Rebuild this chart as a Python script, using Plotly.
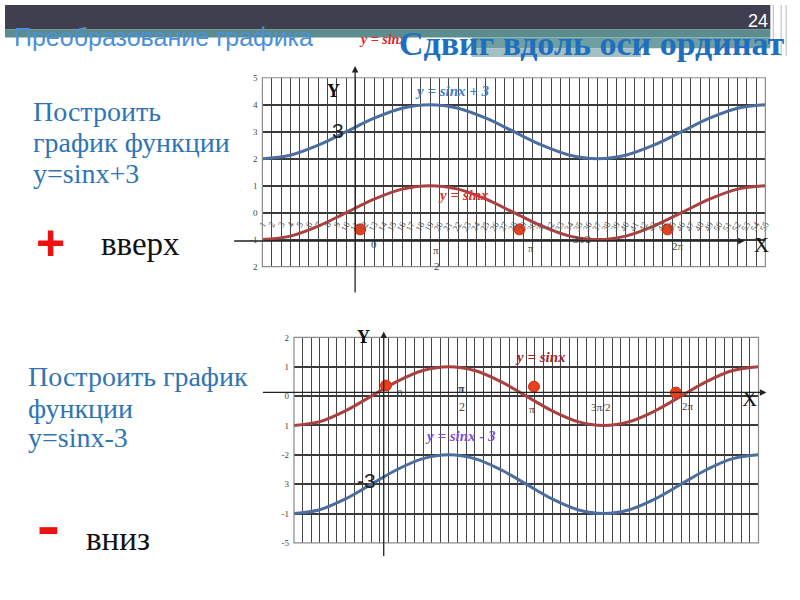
import plotly.graph_objects as go

W, H = 800, 600
SERIF = "Liberation Serif"
SANS = "Liberation Sans"

# ---------------------------------------------------------------
# values (x in degrees, 30 deg apart)
# ---------------------------------------------------------------
x_deg = [-90, -60, -30, 0, 30, 60, 90, 120, 150, 180, 210, 240, 270,
         300, 330, 360, 390, 420, 450]
sin_y = [-1, -0.87, -0.5, 0, 0.5, 0.87, 1, 0.87, 0.5, 0, -0.5, -0.87, -1,
         -0.87, -0.5, 0, 0.5, 0.87, 1]
up_y = [2, 2.13, 2.5, 3, 3.5, 3.87, 4, 3.87, 3.5, 3, 2.5, 2.13, 2,
        2.13, 2.5, 3, 3.5, 3.87, 4]
down_y = [-4, -3.87, -3.5, -3, -2.5, -2.13, -2, -2.13, -2.5, -3, -3.5, -3.87, -4,
          -3.87, -3.5, -3, -2.5, -2.13, -2]

dots_top_x = [15, 186, 345]
dots_top_y = [-0.62, -0.62, -0.62]
dots_bot_x = [17, 189, 354]
dots_bot_y = [0.36, 0.32, 0.12]

# category axis of the original spreadsheet chart: 55 points, 10 deg apart
cat_labels = [str(i) for i in range(1, 56)]
cat_x = [-90 + 10 * i for i in range(55)]

top_yticks = [5, 4, 3, 2, 1, 0, -1, -2]
top_ytext = ["5", "4", "3", "2", "1", "0", "-1", "2"]
bot_yticks = [2, 1, 0, -1, -2, -3, -4, -5]
bot_ytext = ["2", "1", "0", "1", "-2", "3", "-1", "-5"]

BLUE_LINE = "#4b6e9e"
RED_LINE = "#a8413f"
DOT = "#e8401c"
TXT_BLUE = "#2f75b5"


def px(x, y):
    return x / W, 1 - y / H


fig = go.Figure()

# top chart: y = sinx and y = sinx + 3
fig.add_trace(go.Scatter(x=x_deg, y=up_y, mode="lines", line=dict(color=BLUE_LINE, width=3, shape="spline"),
                         xaxis="x", yaxis="y"))
fig.add_trace(go.Scatter(x=x_deg, y=sin_y, mode="lines", line=dict(color=RED_LINE, width=3, shape="spline"),
                         xaxis="x", yaxis="y"))
fig.add_trace(go.Scatter(x=dots_top_x, y=dots_top_y, mode="markers",
                         marker=dict(color=DOT, size=11, line=dict(color="#c8301a", width=1)),
                         xaxis="x", yaxis="y"))

# bottom chart: y = sinx and y = sinx - 3
fig.add_trace(go.Scatter(x=x_deg, y=sin_y, mode="lines", line=dict(color=RED_LINE, width=3, shape="spline"),
                         xaxis="x2", yaxis="y2"))
fig.add_trace(go.Scatter(x=x_deg, y=down_y, mode="lines", line=dict(color=BLUE_LINE, width=3, shape="spline"),
                         xaxis="x2", yaxis="y2"))
fig.add_trace(go.Scatter(x=dots_bot_x, y=dots_bot_y, mode="markers",
                         marker=dict(color=DOT, size=11, line=dict(color="#c8301a", width=1)),
                         xaxis="x2", yaxis="y2"))

ann = []


def txt(x, y, s, size, color="#111", family=SERIF, xanchor="center"):
    ax_, ay_ = px(x, y)
    ann.append(dict(x=ax_, y=ay_, xref="paper", yref="paper", text=s, showarrow=False,
                    font=dict(family=family, size=size, color=color),
                    xanchor=xanchor, yanchor="middle"))


def arrow(x0, y0, x1, y1):
    hx, hy = px(x1, y1)
    ann.append(dict(x=hx, y=hy, xref="paper", yref="paper", text="", showarrow=True,
                    ax=x0 - x1, ay=y0 - y1, axref="pixel", ayref="pixel",
                    arrowhead=2, arrowsize=1, arrowwidth=1.3, arrowcolor="#222"))


# header
txt(7, 33, "Преобразование графика", 25, "#4a90d9", SANS, "left")
txt(357, 35, "<b><i>y = sinx</i></b>", 14, "#e02424", SERIF, "left")
txt(397, 39, "<b>Сдвиг вдоль оси ординат</b>", 34, "#1f6fc1", SERIF, "left")
txt(763, 16, "24", 18, "#ffffff", SANS)

# left texts
txt(26, 108, "Построить", 28, TXT_BLUE, SERIF, "left")
txt(26, 140, "график функции", 28, TXT_BLUE, SERIF, "left")
txt(26, 171, "y=sinx+3", 28, TXT_BLUE, SERIF, "left")
txt(46, 242, "<b>+</b>", 50, "#ee1111", SANS)
txt(95, 243, "вверх", 33, "#111", SERIF, "left")

txt(21, 378, "Построить график", 28, TXT_BLUE, SERIF, "left")
txt(21, 410, "функции", 28, TXT_BLUE, SERIF, "left")
txt(21, 440, "y=sinx-3", 28, TXT_BLUE, SERIF, "left")
txt(80, 543, "вниз", 33, "#111", SERIF, "left")

# top chart labels
txt(333, 87, "<b>Y</b>", 18)
txt(338, 128, "3", 21, "#222", SANS)
txt(454, 87, "<b><i>y = sinx + 3</i></b>", 15, "#3d7cc9")
txt(465, 193, "<b><i>y = sinx</i></b>", 15, "#e03030")
txt(374, 243, "0", 11, "#444")
txt(437, 249, "π", 11, "#444")
txt(438, 265, "2", 11, "#444")
txt(533, 247, "π", 11, "#444")
txt(585, 238, "3π/2", 10, "#444")
txt(682, 245, "2π", 11, "#444")
txt(767, 244, "X", 21)

# bottom chart labels
txt(364, 338, "<b>Y</b>", 18)
txt(367, 484, "-3", 21, "#222", SANS)
txt(543, 358, "<b><i>y = sinx</i></b>", 15, "#9e2530")
txt(462, 438, "<b><i>y = sinx - 3</i></b>", 15, "#7a4ee0")
txt(401, 395, "0", 11, "#444")
txt(463, 390, "<b>π</b>", 12, "#444")
txt(463, 409, "2", 12, "#444")
txt(534, 411, "π", 11, "#444")
txt(604, 409, "3π/2", 11, "#444")
txt(693, 408, "2π", 11, "#444")
txt(755, 401, "X", 21)

# drawn axes with arrow heads
arrow(355, 290, 355, 62)
arrow(238, 240, 750, 240)
arrow(384, 558, 384, 332)
arrow(267, 394, 772, 394)

shapes = []


def rect(x0, y0, x1, y1, color):
    shapes.append(dict(type="rect", xref="paper", yref="paper",
                       x0=x0 / W, x1=x1 / W, y0=1 - y1 / H, y1=1 - y0 / H,
                       fillcolor=color, line=dict(width=0), layer="below"))


rect(0, 0, 776, 25, "#3f3f50")
rect(0, 25, 776, 33, "#5b8d8e")
rect(473, 33, 776, 44, "#6f9fa0")
rect(473, 44, 645, 53, "#a3bfc2")
for xv in [779, 787, 792]:
    shapes.append(dict(type="line", xref="paper", yref="paper", x0=xv / W, x1=xv / W,
                       y0=1 - 52 / H, y1=1, line=dict(color="#b8b8b8", width=1)))

# plot borders
for xr, yr in [("x domain", "y domain"), ("x2 domain", "y2 domain")]:
    shapes.append(dict(type="rect", xref=xr, yref=yr, x0=0, x1=1, y0=0, y1=1,
                       line=dict(color="#8a8a8a", width=1.2), layer="above"))

# small red minus sign
rect(35, 531, 53, 538, "#ee1111")

grid_x = dict(range=[-90, 450], tickvals=cat_x, showgrid=True, gridcolor="#454545", gridwidth=1.3,
              zeroline=False, showline=False, ticks="")
grid_y = dict(showgrid=True, gridcolor="#3a3a3a", gridwidth=1.6, zeroline=False, showline=False,
              ticks="", ticklabelstandoff=4,
              tickfont=dict(family=SERIF, size=9, color="#444"))

fig.update_layout(
    width=W, height=H,
    margin=dict(l=0, r=0, t=0, b=0),
    paper_bgcolor="white", plot_bgcolor="white",
    showlegend=False,
    xaxis=dict(domain=[261 / W, 771 / W], anchor="free", position=1 - 211 / H,
               ticktext=cat_labels, tickangle=-60, ticklabelstandoff=4,
               tickfont=dict(family=SERIF, size=9, color="#555"), **grid_x),
    yaxis=dict(domain=[1 - 266 / H, 1 - 74 / H], range=[-2, 5], anchor="x",
               tickvals=top_yticks, ticktext=top_ytext, **grid_y),
    xaxis2=dict(domain=[293 / W, 764 / W], anchor="y2", showticklabels=False, **grid_x),
    yaxis2=dict(domain=[1 - 547 / H, 1 - 338 / H], range=[-5, 2], anchor="x2",
                tickvals=bot_yticks, ticktext=bot_ytext, **grid_y),
    annotations=ann,
    shapes=shapes,
)

# the page body has a default margin; drop it so the 800x600 figure fills the window
fig.write_html("out.html", config={"displayModeBar": False},
               post_script="document.body.style.margin='0';")
